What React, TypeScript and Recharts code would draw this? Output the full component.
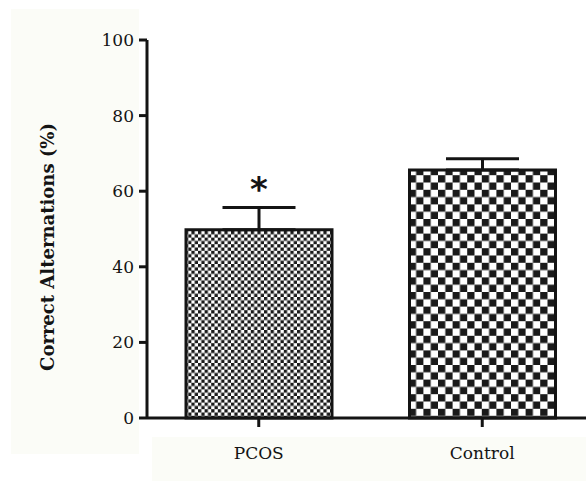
import React from 'react'
import { BarChart, Bar, XAxis, YAxis, ErrorBar, LabelList, Cell } from 'recharts'

const groups = ['PCOS', 'Control']
const means = [49.8, 65.6]
const sems = [5.9, 3.0]
const marks = ['*', '']
const yTicks = [0, 20, 40, 60, 80, 100]

const data = groups.map((g, i) => ({
  name: g,
  value: means[i],
  err: [0, sems[i]],
  mark: marks[i],
}))
const fills = ['url(#fine)', 'url(#coarse)']

const serif = 'DejaVu Serif'
const ink = '#141414'

const Star = (props: any) => {
  const { x, y, width, value, index } = props
  if (!value) return null
  const top = y - (sems[index] / 100) * 378
  return (
    <text x={x + width / 2} y={top - 6} textAnchor="middle" fontFamily="DejaVu Sans" fontWeight="bold" fontSize={34} fill={ink}>
      {value}
    </text>
  )
}

const YLabel = () => (
  <text x={47} y={247} transform="rotate(-90 47 247)" textAnchor="middle" dominantBaseline="central" fontFamily={serif} fontWeight="bold" fontSize={18} fill={ink}>
    Correct Alternations (%)
  </text>
)

export default function App() {
  return (
    <div style={{ position: 'absolute', left: 0, top: 0, width: 586, height: 481, overflow: 'hidden', background: '#fff' }}>
      <div style={{ position: 'absolute', left: 11, top: 9, width: 128, height: 445, background: '#fbfcf7' }} />
      <div style={{ position: 'absolute', left: 152, top: 437, width: 434, height: 44, background: '#fbfcf7' }} />
      <div style={{ position: 'absolute', left: 0, top: 0 }}>
        <BarChart width={594} height={481} data={data} margin={{ top: 40, right: 0, bottom: 0, left: 0 }} barCategoryGap={0}>
          <defs>
            <pattern id="fine" width={6.6} height={6.6} patternUnits="userSpaceOnUse">
              <rect width={6.6} height={6.6} fill="#fff" />
              <rect width={3.3} height={3.3} fill="#1a1a1a" />
              <rect x={3.3} y={3.3} width={3.3} height={3.3} fill="#1a1a1a" />
            </pattern>
            <pattern id="coarse" width={14.6} height={14.6} patternUnits="userSpaceOnUse">
              <rect width={14.6} height={14.6} fill="#fff" />
              <rect width={7.3} height={7.3} fill="#1a1a1a" />
              <rect x={7.3} y={7.3} width={7.3} height={7.3} fill="#1a1a1a" />
            </pattern>
          </defs>
          <XAxis
            dataKey="name"
            height={63}
            axisLine={{ stroke: ink, strokeWidth: 3 }}
            tickLine={{ stroke: ink, strokeWidth: 3 }}
            tickSize={9}
            tickMargin={20}
            tick={{ fill: ink, fontFamily: serif, fontSize: 17 }}
          />
          <YAxis
            width={147}
            domain={[0, 100]}
            ticks={yTicks}
            interval={0}
            axisLine={{ stroke: ink, strokeWidth: 3 }}
            tickLine={{ stroke: ink, strokeWidth: 3 }}
            tickSize={8}
            tickMargin={5}
            tick={{ fill: ink, fontFamily: serif, fontSize: 17 }}
            label={<YLabel />}
          />
          <Bar dataKey="value" barSize={146} stroke={ink} strokeWidth={3} isAnimationActive={false}>
            {data.map((d, i) => (
              <Cell key={d.name} fill={fills[i]} />
            ))}
            <ErrorBar dataKey="err" direction="y" width={36.5} stroke={ink} strokeWidth={3} />
            <LabelList dataKey="mark" content={<Star />} />
          </Bar>
        </BarChart>
      </div>
    </div>
  )
}
